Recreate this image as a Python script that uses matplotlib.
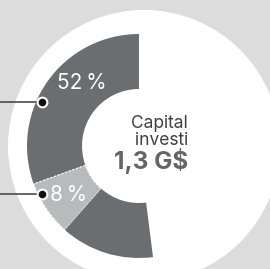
import matplotlib
matplotlib.use("Agg")
import matplotlib.pyplot as plt
from matplotlib.patches import Circle

# Data (share of capital invested, in % of a full circle)
segment_names = ["Part A", "Part B", "Part C", "Reste"]
segment_values = [30.5, 8, 13.5, 48]
segment_colors = ["#6b6e70", "#b9babc", "#6b6e70", "none"]
label_texts = ["52\u2009%", "8\u2009%"]
center_title = ["Capital", "investi"]
center_value = "1,3 G$"

W, H = 270, 269
fig = plt.figure(figsize=(W / 100, H / 100), dpi=100)
fig.patch.set_facecolor("#dcdcdc")
ax = fig.add_axes([0, 0, 1, 1])
ax.set_facecolor("#dcdcdc")

def py(y):
    return H - y

# big white disc
ax.add_patch(Circle((144, py(146)), 136, facecolor="white", edgecolor="none", zorder=1))

cx, cy = 139, py(146)
wedges, _ = ax.pie(segment_values, colors=segment_colors, startangle=90,
                   counterclock=True, center=(cx, cy), radius=112,
                   wedgeprops=dict(width=55, linewidth=0), frame=True)
for w in wedges:
    w.set_zorder(2)
wedges[1].set_edgecolor("white")
wedges[1].set_linestyle((0, (2, 1.5)))
wedges[1].set_linewidth(0.8)

fam = ["Inter", "DejaVu Sans"]
ax.text(82, py(83), label_texts[0], color="white", fontsize=15, ha="center",
        va="center", family=fam, zorder=4)
ax.text(69, py(195), label_texts[1], color="white", fontsize=15, ha="center",
        va="center", family=fam, zorder=4)

ax.text(188, py(128), center_title[0], color="#3f3f3f", fontsize=12.5, ha="right",
        va="baseline", family=fam, fontweight="normal", zorder=4)
ax.text(188, py(145), center_title[1], color="#3f3f3f", fontsize=12.5, ha="right",
        va="baseline", family=fam, fontweight="normal", zorder=4)
ax.text(188, py(169), center_value, color="#636567", fontsize=17.5, ha="right",
        va="baseline", family=fam, fontweight="bold", zorder=4)

# leader lines with dots
for ypx in (102, 194):
    ax.plot([0, 42], [py(ypx), py(ypx)], color="#4a4a4a", lw=1.2, zorder=3,
            solid_capstyle="butt")
    ax.plot([42], [py(ypx)], marker="o", ms=7, mfc="#111111", mec="white",
            mew=1.5, zorder=5)

ax.set_xlim(0, W)
ax.set_ylim(0, H)
ax.set_aspect("equal")
ax.axis("off")

fig.savefig("out.png", dpi=100, facecolor=fig.get_facecolor())
